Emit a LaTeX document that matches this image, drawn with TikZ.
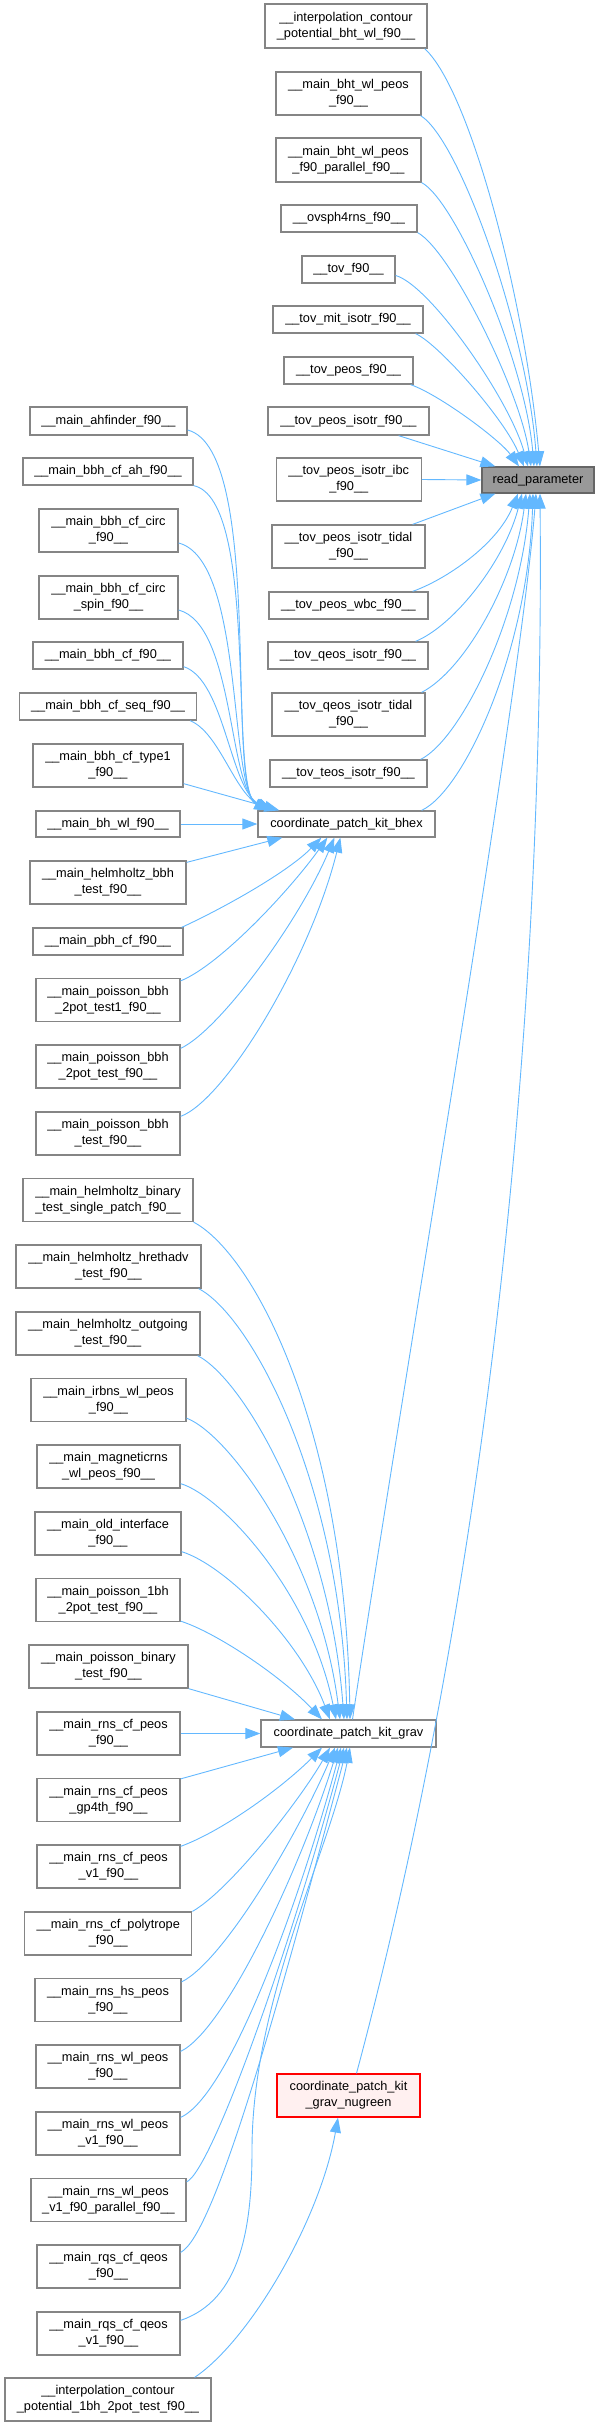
\documentclass[tikz,border=0pt]{standalone}
\usepackage{fontspec}
\setmainfont{Liberation Sans}
\usetikzlibrary{arrows.meta,calc}
\definecolor{edgeblue}{HTML}{63B8FF}
\definecolor{boxgray}{HTML}{858585}
\definecolor{rpfill}{HTML}{999999}
\definecolor{rpdraw}{HTML}{666666}
\definecolor{ngfill}{HTML}{FFF0F0}
\definecolor{ngdraw}{HTML}{FF0000}
\newcommand\dxfont{\fontsize{12.8}{16}\selectfont}
\tikzset{
  box/.style={draw=boxgray, line width=1.25bp, fill=white, inner sep=0pt, align=center, font=\dxfont},
  rpbox/.style={box, draw=rpdraw, fill=rpfill},
  ngbox/.style={box, draw=ngdraw, fill=ngfill},
  edge/.style={draw=edgeblue, line width=0.9bp, -{Triangle[length=15bp,width=11bp]}},
}
\begin{document}
\begin{tikzpicture}[x=1bp,y=-1bp]
\useasboundingbox (0,0) rectangle (600,2427);
% ---- callee ----
\node[rpbox,minimum width=112bp,minimum height=26bp] (rp) at (538,480) {read\_parameter};
% ---- top column ----
\node[box,minimum width=162bp,minimum height=44bp] (t1) at (346,26) {\_\_interpolation\_contour\\\_potential\_bht\_wl\_f90\_\_};
\node[box,minimum width=145bp,minimum height=43bp] (t2) at (348.5,93.5) {\_\_main\_bht\_wl\_peos\\\_f90\_\_};
\node[box,minimum width=145bp,minimum height=44bp] (t3) at (348.5,160) {\_\_main\_bht\_wl\_peos\\\_f90\_parallel\_f90\_\_};
\node[box,minimum width=136bp,minimum height=27bp] (t4) at (349,218.5) {\_\_ovsph4rns\_f90\_\_};
\node[box,minimum width=93bp,minimum height=27bp] (t5) at (348.5,269.5) {\_\_tov\_f90\_\_};
\node[box,minimum width=150bp,minimum height=27bp] (t6) at (348,319.5) {\_\_tov\_mit\_isotr\_f90\_\_};
\node[box,minimum width=129bp,minimum height=27bp] (t7) at (348.5,370.5) {\_\_tov\_peos\_f90\_\_};
\node[box,minimum width=161bp,minimum height=28bp] (t8) at (348.5,421) {\_\_tov\_peos\_isotr\_f90\_\_};
\node[box,minimum width=145bp,minimum height=43bp] (t9) at (348.75,479.5) {\_\_tov\_peos\_isotr\_ibc\\\_f90\_\_};
\node[box,minimum width=153bp,minimum height=43bp] (t10) at (348.5,546.5) {\_\_tov\_peos\_isotr\_tidal\\\_f90\_\_};
\node[box,minimum width=159bp,minimum height=27bp] (t11) at (348.5,605.5) {\_\_tov\_peos\_wbc\_f90\_\_};
\node[box,minimum width=160bp,minimum height=27bp] (t12) at (348,655.5) {\_\_tov\_qeos\_isotr\_f90\_\_};
\node[box,minimum width=153bp,minimum height=43bp] (t13) at (348.5,714.5) {\_\_tov\_qeos\_isotr\_tidal\\\_f90\_\_};
\node[box,minimum width=157bp,minimum height=27bp] (t14) at (348.5,773.5) {\_\_tov\_teos\_isotr\_f90\_\_};
\node[box,minimum width=177bp,minimum height=26bp] (bhex) at (346.5,824) {coordinate\_patch\_kit\_bhex};
\node[box,minimum width=175bp,minimum height=27bp] (grav) at (348.5,1733.5) {coordinate\_patch\_kit\_grav};
\node[ngbox,minimum width=143bp,minimum height=43bp] (ng) at (348.5,2095.5) {coordinate\_patch\_kit\\\_grav\_nugreen};
% ---- left upper ----
\node[box,minimum width=157bp,minimum height=28bp] (a1) at (108.5,421) {\_\_main\_ahfinder\_f90\_\_};
\node[box,minimum width=170bp,minimum height=27bp] (a2) at (108,471.5) {\_\_main\_bbh\_cf\_ah\_f90\_\_};
\node[box,minimum width=139bp,minimum height=43bp] (a3) at (108.5,530.5) {\_\_main\_bbh\_cf\_circ\\\_f90\_\_};
\node[box,minimum width=139bp,minimum height=43bp] (a4) at (108.5,597.5) {\_\_main\_bbh\_cf\_circ\\\_spin\_f90\_\_};
\node[box,minimum width=150bp,minimum height=27bp] (a5) at (108,655.5) {\_\_main\_bbh\_cf\_f90\_\_};
\node[box,minimum width=177bp,minimum height=27bp] (a6) at (108,706.5) {\_\_main\_bbh\_cf\_seq\_f90\_\_};
\node[box,minimum width=150bp,minimum height=43bp] (a7) at (108,765.5) {\_\_main\_bbh\_cf\_type1\\\_f90\_\_};
\node[box,minimum width=144bp,minimum height=26bp] (a8) at (108,824) {\_\_main\_bh\_wl\_f90\_\_};
\node[box,minimum width=156bp,minimum height=43bp] (a9) at (108,882.5) {\_\_main\_helmholtz\_bbh\\\_test\_f90\_\_};
\node[box,minimum width=150bp,minimum height=27bp] (a10) at (108,941.5) {\_\_main\_pbh\_cf\_f90\_\_};
\node[box,minimum width=144bp,minimum height=43bp] (a11) at (108,1000) {\_\_main\_poisson\_bbh\\\_2pot\_test1\_f90\_\_};
\node[box,minimum width=144bp,minimum height=43bp] (a12) at (108,1066.5) {\_\_main\_poisson\_bbh\\\_2pot\_test\_f90\_\_};
\node[box,minimum width=144bp,minimum height=43bp] (a13) at (108,1133.5) {\_\_main\_poisson\_bbh\\\_test\_f90\_\_};
% ---- left lower ----
\node[box,minimum width=170bp,minimum height=43bp] (g1) at (108,1200) {\_\_main\_helmholtz\_binary\\\_test\_single\_patch\_f90\_\_};
\node[box,minimum width=185bp,minimum height=43bp] (g2) at (108.5,1266.5) {\_\_main\_helmholtz\_hrethadv\\\_test\_f90\_\_};
\node[box,minimum width=184bp,minimum height=43bp] (g3) at (108,1333.5) {\_\_main\_helmholtz\_outgoing\\\_test\_f90\_\_};
\node[box,minimum width=155bp,minimum height=43bp] (g4) at (108.5,1400) {\_\_main\_irbns\_wl\_peos\\\_f90\_\_};
\node[box,minimum width=143bp,minimum height=43bp] (g5) at (108.5,1466.5) {\_\_main\_magneticrns\\\_wl\_peos\_f90\_\_};
\node[box,minimum width=146bp,minimum height=43bp] (g6) at (108,1533.5) {\_\_main\_old\_interface\\\_f90\_\_};
\node[box,minimum width=144bp,minimum height=43bp] (g7) at (108,1600) {\_\_main\_poisson\_1bh\\\_2pot\_test\_f90\_\_};
\node[box,minimum width=159bp,minimum height=43bp] (g8) at (108.5,1666.5) {\_\_main\_poisson\_binary\\\_test\_f90\_\_};
\node[box,minimum width=143bp,minimum height=43bp] (g9) at (108.5,1733.5) {\_\_main\_rns\_cf\_peos\\\_f90\_\_};
\node[box,minimum width=143bp,minimum height=43bp] (g10) at (108.5,1800) {\_\_main\_rns\_cf\_peos\\\_gp4th\_f90\_\_};
\node[box,minimum width=143bp,minimum height=43bp] (g11) at (108.5,1866.5) {\_\_main\_rns\_cf\_peos\\\_v1\_f90\_\_};
\node[box,minimum width=167bp,minimum height=43bp] (g12) at (108.3,1933.5) {\_\_main\_rns\_cf\_polytrope\\\_f90\_\_};
\node[box,minimum width=146bp,minimum height=43bp] (g13) at (108,2000) {\_\_main\_rns\_hs\_peos\\\_f90\_\_};
\node[box,minimum width=144bp,minimum height=43bp] (g14) at (108,2066.5) {\_\_main\_rns\_wl\_peos\\\_f90\_\_};
\node[box,minimum width=144bp,minimum height=43bp] (g15) at (108,2133.5) {\_\_main\_rns\_wl\_peos\\\_v1\_f90\_\_};
\node[box,minimum width=155bp,minimum height=43bp] (g16) at (108.5,2200) {\_\_main\_rns\_wl\_peos\\\_v1\_f90\_parallel\_f90\_\_};
\node[box,minimum width=143bp,minimum height=43bp] (g17) at (108.5,2266.5) {\_\_main\_rqs\_cf\_qeos\\\_f90\_\_};
\node[box,minimum width=143bp,minimum height=43bp] (g18) at (108.5,2333.5) {\_\_main\_rqs\_cf\_qeos\\\_v1\_f90\_\_};
\node[box,minimum width=206bp,minimum height=43bp] (i1) at (108,2399.5) {\_\_interpolation\_contour\\\_potential\_1bh\_2pot\_test\_f90\_\_};
% ---- edges to read_parameter ----
\draw[edge] ($(t1.south east)+(-3,0)$) .. controls (470,90) and (525,300) .. ($(rp.north)+(2,0)$);
\draw[edge] ($(t2.south east)+(-1,0)$) .. controls (460,140) and (527,330) .. ($(rp.north)+(-1,0)$);
\draw[edge] (t3.south east) .. controls (455,200) and (525,360) .. ($(rp.north)+(-4,0)$);
\draw[edge] (t4.south east) .. controls (450,250) and (520,390) .. ($(rp.north)+(-7,0)$);
\draw[edge] ($(t5.east)+(0,6)$) .. controls (430,285) and (510,400) .. ($(rp.north)+(-10,0)$);
\draw[edge] ($(t6.south east)+(-8,0)$) .. controls (440,345) and (505,420) .. ($(rp.north)+(-14,0)$);
\draw[edge] ($(t7.south east)+(-3,0)$) .. controls (440,395) and (500,440) .. ($(rp.north)+(-19,0)$);
\draw[edge] ($(t8.south east)+(-31,0)$) -- ($(rp.north west)+(14,0)$);
\draw[edge] (t9.east) -- (rp.west);
\draw[edge] ($(t10.north east)+(-13,0)$) -- ($(rp.south west)+(14,0)$);
\draw[edge] ($(t11.north east)+(-16,0)$) .. controls (445,580) and (497,545) .. ($(rp.south)+(-20,0)$);
\draw[edge] ($(t12.north east)+(-13,0)$) .. controls (455,625) and (505,560) .. ($(rp.south)+(-16,0)$);
\draw[edge] ($(t13.north east)+(-4,0)$) .. controls (465,670) and (515,580) .. ($(rp.south)+(-12,0)$);
\draw[edge] ($(t14.north east)+(-7,0)$) .. controls (460,740) and (520,620) .. ($(rp.south)+(-8,0)$);
\draw[edge] ($(bhex.north east)+(-14,0)$) .. controls (465,790) and (528,650) .. ($(rp.south)+(-5,0)$);
\draw[edge] ($(grav.north)+(4,0)$) .. controls (400,1400) and (520,700) .. ($(rp.south)+(-2,0)$);
\draw[edge] ($(ng.north)+(8,0)$) .. controls (470,1650) and (545,1100) .. ($(rp.south)+(2,0)$);
% ---- edges to bhex ----
\draw[edge] ($(a1.east)+(0,9)$) .. controls (265,450) and (225,790) .. ($(bhex.north west)+(12,0)$);
\draw[edge] (a2.south east) .. controls (260,500) and (228,790) .. ($(bhex.north west)+(12,0)$);
\draw[edge] ($(a3.east)+(0,12.5)$) .. controls (245,560) and (228,790) .. ($(bhex.north west)+(13,0)$);
\draw[edge] ($(a4.east)+(0,12.5)$) .. controls (235,625) and (228,790) .. ($(bhex.north west)+(14,0)$);
\draw[edge] ($(a5.south east)+(0,-3)$) .. controls (225,680) and (230,790) .. ($(bhex.north west)+(15,0)$);
\draw[edge] ($(a6.south east)+(-7,0)$) .. controls (220,733) and (235,795) .. ($(bhex.north west)+(16,0)$);
\draw[edge] ($(a7.south east)+(0,-4)$) -- ($(bhex.north west)+(22,0)$);
\draw[edge] (a8.east) -- (bhex.west);
\draw[edge] ($(a9.north east)+(0,2)$) -- ($(bhex.south west)+(25,0)$);
\draw[edge] ($(a10.north east)+(-2,0)$) .. controls (230,905) and (290,870) .. ($(bhex.south west)+(64,0)$);
\draw[edge] ($(a11.north east)+(0,3)$) .. controls (220,965) and (290,890) .. ($(bhex.south west)+(70,0)$);
\draw[edge] ($(a12.north east)+(0,4)$) .. controls (220,1030) and (300,920) .. ($(bhex.south west)+(77,0)$);
\draw[edge] ($(a13.north east)+(0,5)$) .. controls (225,1100) and (310,960) .. ($(bhex.south west)+(83,0)$);
% ---- edges to grav ----
\draw[edge] (g1.south east) .. controls (255,1255) and (345,1430) .. ($(grav.north)+(1.5,0)$);
\draw[edge] ($(g2.south east)+(-3,0)$) .. controls (250,1315) and (340,1480) .. ($(grav.north)+(-1.5,0)$);
\draw[edge] ($(g3.south east)+(-3,0)$) .. controls (245,1380) and (330,1530) .. ($(grav.north)+(-4.5,0)$);
\draw[edge] ($(g4.south east)+(0,-4)$) .. controls (230,1435) and (320,1560) .. ($(grav.north)+(-8.5,0)$);
\draw[edge] ($(g5.south east)+(0,-5)$) .. controls (220,1495) and (310,1590) .. ($(grav.north)+(-12.5,0)$);
\draw[edge] ($(g6.south east)+(0,-4)$) .. controls (225,1565) and (300,1640) .. ($(grav.north)+(-18.5,0)$);
\draw[edge] ($(g7.south east)+(0,-1)$) .. controls (215,1632) and (280,1675) .. ($(grav.north)+(-26.5,0)$);
\draw[edge] (g8.south east) -- ($(grav.north)+(-53.5,0)$);
\draw[edge] (g9.east) -- (grav.west);
\draw[edge] ($(g10.north east)+(0,1)$) -- ($(grav.south)+(-55.5,0)$);
\draw[edge] ($(g11.north east)+(0,2)$) .. controls (225,1830) and (285,1785) .. ($(grav.south)+(-26.5,0)$);
\draw[edge] (g12.north east) .. controls (230,1890) and (300,1800) .. ($(grav.south)+(-18.5,0)$);
\draw[edge] ($(g13.north east)+(0,4)$) .. controls (225,1960) and (300,1830) .. ($(grav.south)+(-13.5,0)$);
\draw[edge] ($(g14.north east)+(0,7)$) .. controls (225,2030) and (300,1870) .. ($(grav.south)+(-10.5,0)$);
\draw[edge] ($(g15.north east)+(0,6)$) .. controls (230,2095) and (300,1900) .. ($(grav.south)+(-7.5,0)$);
\draw[edge] ($(g16.north east)+(0,4)$) .. controls (212,2170) and (290,1950) .. ($(grav.south)+(-4.5,0)$);
\draw[edge] ($(g17.north east)+(0,8)$) .. controls (215,2235) and (280,2000) .. ($(grav.south)+(-1.5,0)$);
\draw[edge] ($(g18.north east)+(0,9)$) .. controls (240,2300) and (252,2230) .. (252,2150) .. controls (252,2000) and (330,1850) .. ($(grav.south)+(1.5,0)$);
% ---- edge to nugreen ----
\draw[edge] ($(i1.north east)+(-17,0)$) .. controls (250,2340) and (320,2220) .. ($(ng.south)+(-10.5,0)$);
\end{tikzpicture}
\end{document}
